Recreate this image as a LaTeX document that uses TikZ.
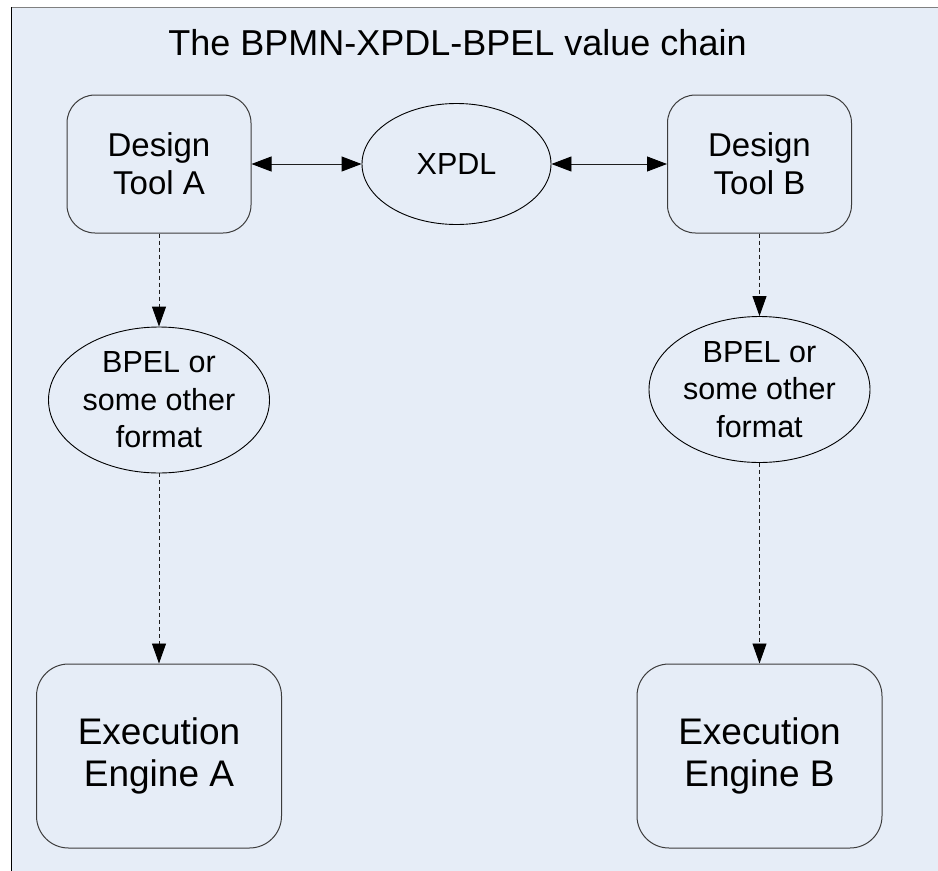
\documentclass[tikz,border=0pt]{standalone}
\usepackage{fontspec}
\setmainfont{Liberation Sans}
\usetikzlibrary{arrows.meta,shapes.geometric}
\definecolor{bgfill}{RGB}{230,237,247}
\definecolor{boxline}{RGB}{60,60,60}
\definecolor{topline}{RGB}{128,128,128}
\definecolor{linkline}{RGB}{30,30,30}

\begin{document}
\begin{tikzpicture}[x=1pt,y=-1pt,
  tool/.style={draw=boxline, line width=1pt, rounded corners=28pt,
    minimum width=184pt, minimum height=138pt, inner sep=0pt, align=center,
    font=\fontsize{33}{38}\selectfont},
  engine/.style={draw=boxline, line width=1pt, rounded corners=32pt,
    minimum width=245pt, minimum height=184pt, inner sep=0pt, align=center,
    font=\fontsize{37}{42.5}\selectfont},
  fmt/.style={ellipse, draw=black, line width=0.9pt,
    minimum width=221pt, minimum height=146pt, inner sep=0pt, align=center,
    font=\fontsize{30.5}{37.5}\selectfont},
  link/.style={{Triangle[length=20pt,width=15pt,color=black]}-{Triangle[length=20pt,width=15pt,color=black]},
    draw=linkline, line width=0.9pt},
  flow/.style={-{Triangle[length=20pt,width=14pt,color=black]}, draw=linkline, line width=0.9pt,
    dash pattern=on 4pt off 3pt}
]
\useasboundingbox (0,0) rectangle (938,871);

% page background with its top and left rules
\fill[bgfill] (11,7) rectangle (938,871);
\draw[topline, line width=1pt] (11,7) -- (938,7);
\draw[black, line width=1pt] (11,7) -- (11,871);

% title
\node[anchor=base, font=\fontsize{36}{40}\selectfont] (title) at (457.5,55) {The BPMN-XPDL-BPEL value chain};

% design tools and the shared exchange format
\node[tool] (dA) at (159,164) {Design\\Tool A};
\node[ellipse, draw=black, line width=0.9pt, minimum width=189pt, minimum height=121pt,
  inner sep=0pt, font=\fontsize{30.5}{36}\selectfont] (xpdl) at (456.5,164) {XPDL};
\node[tool] (dB) at (759.5,164) {Design\\Tool B};

% executable formats
\node[fmt] (fA) at (159,400) {BPEL or\\some other\\format};
\node[fmt] (fB) at (759.5,389.5) {BPEL or\\some other\\format};

% execution engines
\node[engine] (eA) at (159,756) {Execution\\Engine A};
\node[engine] (eB) at (759.5,756) {Execution\\Engine B};

% connectors
\draw[link] (dA.east) -- (xpdl.west);
\draw[link] (xpdl.east) -- (dB.west);
\draw[flow] (dA.south) -- (fA.north);
\draw[flow] (fA.south) -- (eA.north);
\draw[flow] (dB.south) -- (fB.north);
\draw[flow] (fB.south) -- (eB.north);
\end{tikzpicture}
\end{document}
